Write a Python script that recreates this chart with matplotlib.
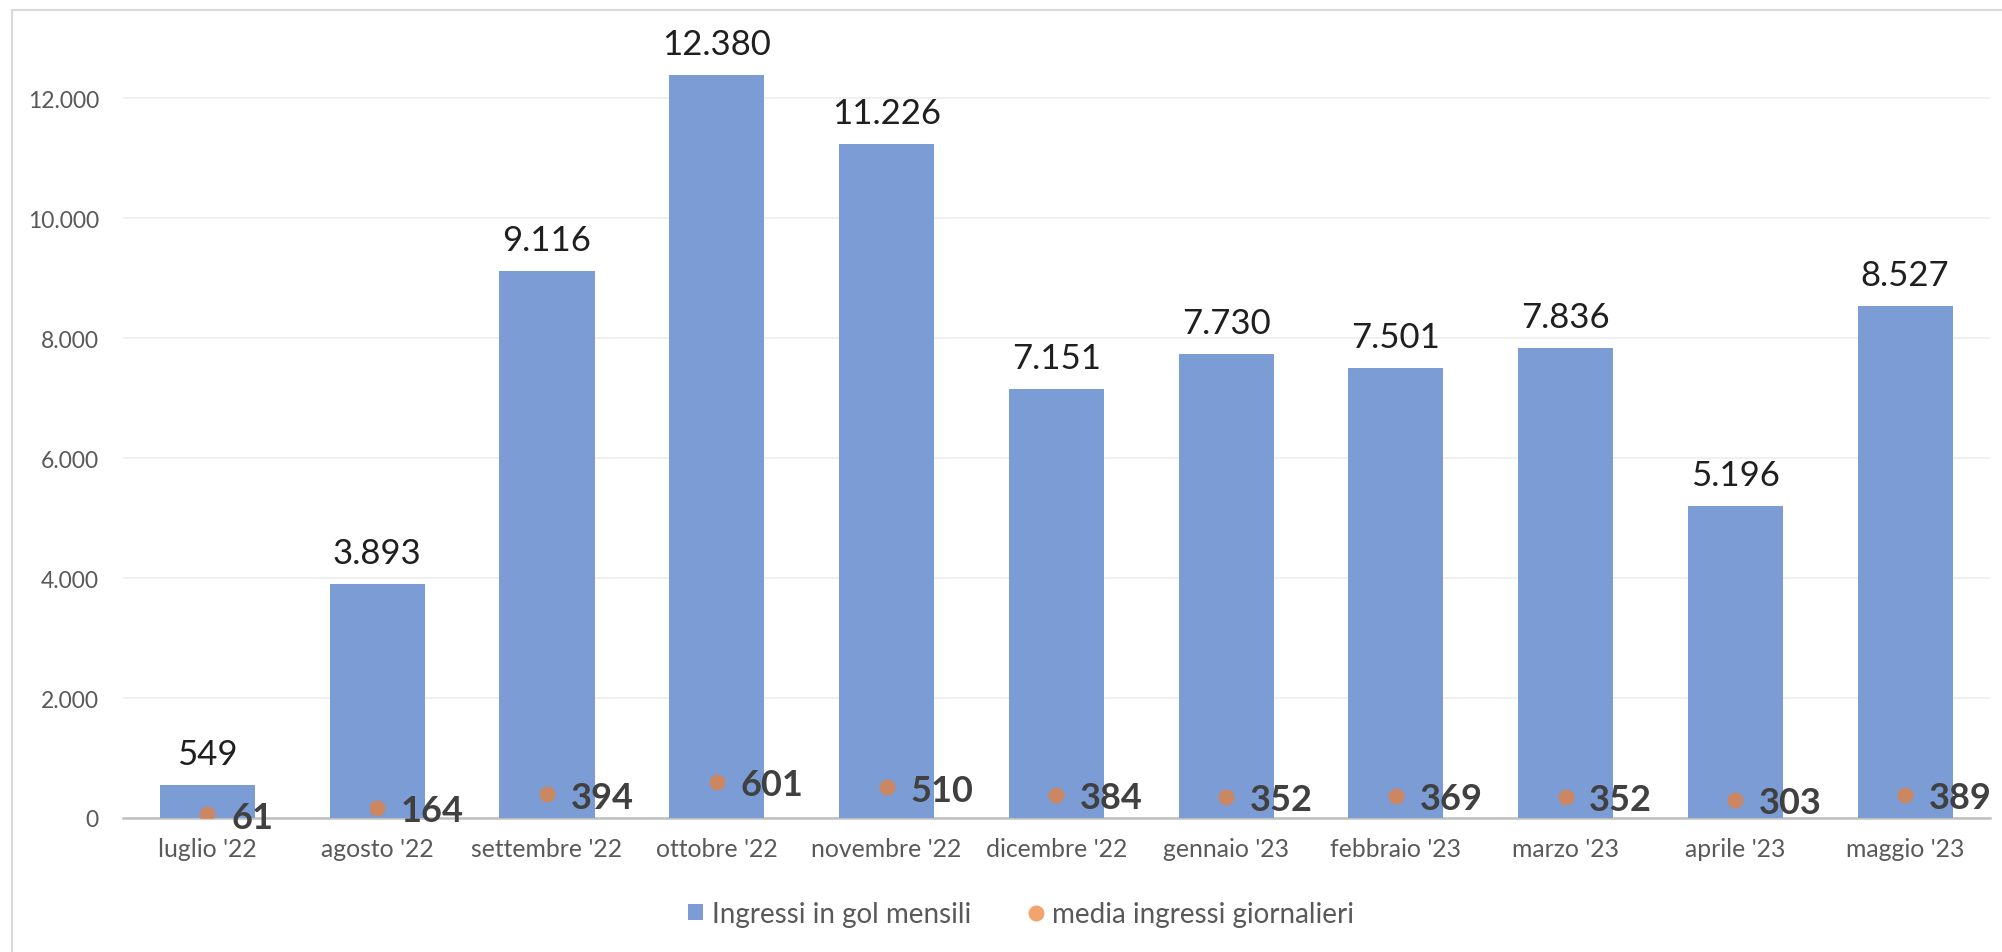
import numpy as np
import matplotlib
matplotlib.use("Agg")
import matplotlib.pyplot as plt
from matplotlib.ticker import FuncFormatter, MultipleLocator
from matplotlib.lines import Line2D
from matplotlib.patches import Patch

plt.rcParams['font.family'] = ['Lato', 'DejaVu Sans']

# data
mesi = ["luglio '22", "agosto '22", "settembre '22", "ottobre '22", "novembre '22",
        "dicembre '22", "gennaio '23", "febbraio '23", "marzo '23", "aprile '23", "maggio '23"]
ingressi_mensili = [549, 3893, 9116, 12380, 11226, 7151, 7730, 7501, 7836, 5196, 8527]
media_giornaliera = [61, 164, 394, 601, 510, 384, 352, 369, 352, 303, 389]

bar_color = '#7C9CD5'
dot_color = '#ED7D31'


def fmt_it(v, pos=None):
    return f"{v:,.0f}".replace(",", ".")


W, H = 2002, 953
fig = plt.figure(figsize=(W / 100, H / 100), dpi=100)

# outer chart frame (only top and left edges visible in the crop)
fig.add_artist(Line2D([12 / W, 1], [1 - 11 / H, 1 - 11 / H], color='#D9D9D9', lw=1.5))
fig.add_artist(Line2D([12 / W, 12 / W], [0, 1 - 11 / H], color='#D9D9D9', lw=1.5))

ax = fig.add_axes([122.6 / W, (H - 819) / H, (1990 - 122.6) / W, (819 - 21) / H])

x = np.arange(len(mesi))
ax.bar(x, ingressi_mensili, width=0.56, color=bar_color, zorder=2)
ax.plot(x, media_giornaliera, 'o', color=dot_color, alpha=0.7, markersize=11.5,
        markeredgewidth=0, zorder=3)

# data labels
for xi, v in zip(x, ingressi_mensili):
    ax.annotate(fmt_it(v), (xi, v), xytext=(0, 11), textcoords='offset points',
                ha='center', va='bottom', fontsize=25, color='#1F1F1F')
for xi, v in zip(x, media_giornaliera):
    ax.annotate(fmt_it(v), (xi, v), xytext=(17, -2), textcoords='offset points',
                ha='left', va='center', fontsize=26, fontweight='bold', color='#404040',
                zorder=4)

ax.set_xlim(-0.5, len(mesi) - 0.5)
ax.set_ylim(0, 13300)
ax.yaxis.set_major_locator(MultipleLocator(2000))
ax.yaxis.set_major_formatter(FuncFormatter(fmt_it))
ax.set_xticks(x)
ax.set_xticklabels(mesi)

ax.grid(axis='y', color='#EDEDED', lw=1.2, zorder=0)
ax.set_axisbelow(True)
for s in ['top', 'left', 'right']:
    ax.spines[s].set_visible(False)
ax.spines['bottom'].set_color('#BFBFBF')
ax.spines['bottom'].set_linewidth(1.8)
ax.spines['bottom'].set_zorder(1)
ax.tick_params(axis='both', length=0, labelcolor='#595959')
ax.tick_params(axis='y', pad=17, labelsize=16.5)
ax.tick_params(axis='x', pad=14, labelsize=17.8)

handles = [Patch(facecolor=bar_color, edgecolor='none'),
           Line2D([], [], marker='o', ls='none', color=dot_color, alpha=0.7,
                  markersize=11.5, markeredgewidth=0)]
fig.legend(handles, ["Ingressi in gol mensili", "media ingressi giornalieri"],
           loc='center', bbox_to_anchor=(1021 / W, 1 - 915 / H), ncol=2, frameon=False,
           fontsize=20, labelcolor='#595959', handlelength=0.54, handleheight=0.54,
           handletextpad=0.32, columnspacing=2.05)

fig.savefig("out.png", dpi=100)
